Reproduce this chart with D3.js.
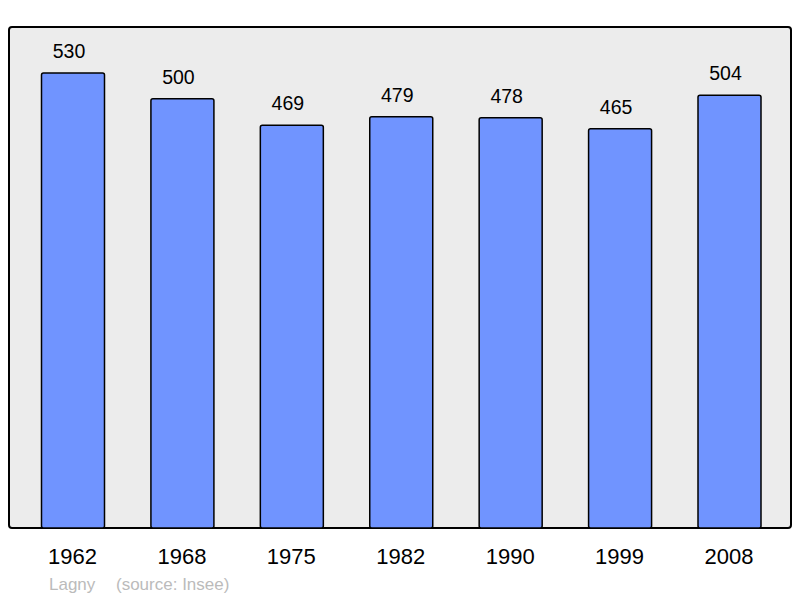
<!DOCTYPE html>
<html><head><meta charset="utf-8">
<script src="https://cdn.jsdelivr.net/npm/d3@7"></script>
<style>body{margin:0;background:#fff}svg{display:block}text{font-family:"Liberation Sans",Arial,sans-serif}</style>
</head><body>
<script>
const years = ["1962","1968","1975","1982","1990","1999","2008"];
const population = [530,500,469,479,478,465,504];
const townName = "Lagny";
const sourceText = "(source: Insee)";

const W=800,H=598;
const svg=d3.select("body").append("svg").attr("width",W).attr("height",H);
const panel={x0:9,y0:27,x1:791,y1:528};
svg.append("rect").attr("x",panel.x0).attr("y",panel.y0)
  .attr("width",panel.x1-panel.x0).attr("height",panel.y1-panel.y0)
  .attr("rx",3).attr("fill","#ececec").attr("stroke","#000").attr("stroke-width",2);

const xs=d3.scalePoint().domain(years).range([73,729.5]);
const bw=63;
const y=d3.scaleLinear().domain([0,530]).range([panel.y1,73]);

svg.selectAll("rect.bar").data(population).join("rect").attr("class","bar")
  .attr("x",(d,i)=>xs(years[i])-bw/2).attr("y",d=>y(d))
  .attr("width",bw).attr("height",d=>panel.y1-y(d))
  .attr("rx",2).attr("fill","#7094ff").attr("stroke","#000").attr("stroke-width",1.5);

svg.selectAll("text.val").data(population).join("text").attr("class","val")
  .attr("x",(d,i)=>xs(years[i])-4).attr("y",d=>y(d)-15)
  .attr("text-anchor","middle").attr("font-size",19.5).attr("fill","#000").text(d=>d);

const axis=d3.axisBottom(xs).tickSize(0).tickPadding(0);
const g=svg.append("g").attr("transform",`translate(0,${panel.y1})`).call(axis);
g.select(".domain").remove();
g.selectAll("text").attr("font-size",22).attr("fill","#000").attr("dy",0).attr("y",35.5)
  .attr("x",-1).attr("font-family","Liberation Sans,Arial,sans-serif");

svg.append("text").attr("x",49).attr("y",590).attr("font-size",17).attr("fill","#bbbbbb").text(townName);
svg.append("text").attr("x",116).attr("y",590).attr("font-size",17).attr("fill","#bbbbbb").text(sourceText);
</script>
</body></html>
